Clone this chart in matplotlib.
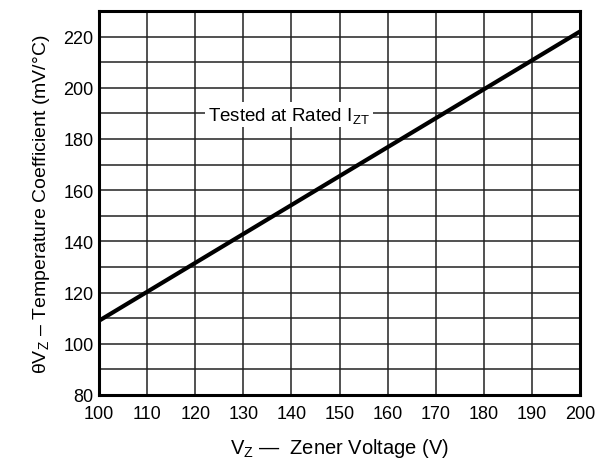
import matplotlib
matplotlib.use('Agg')
import matplotlib.pyplot as plt
import numpy as np

plt.rcParams['font.family'] = ['Liberation Sans', 'DejaVu Sans']
plt.rcParams['mathtext.fontset'] = 'custom'
plt.rcParams['mathtext.rm'] = 'Liberation Sans'
plt.rcParams['mathtext.it'] = 'Liberation Sans'

# Datos
vz    = [100, 200]
theta = [109, 222]

x_ticks = np.arange(100, 201, 10)
y_ticks = np.arange(80, 221, 20)
y_grid  = np.arange(80, 231, 10)

fig = plt.figure(figsize=(5.96, 4.64), dpi=100)
ax  = fig.add_axes([99 / 596, 1 - 396 / 464, 481 / 596, 384 / 464])

ax.set_xlim(100, 200)
ax.set_ylim(80, 230)
ax.set_xticks(x_ticks)
ax.set_yticks(y_ticks)
ax.set_yticks(y_grid, minor=True)
ax.tick_params(which='both', length=0, labelsize=13)
ax.tick_params(axis='x', pad=7)
ax.tick_params(axis='y', pad=4)
ax.grid(True, which='both', color='#222222', linewidth=1.1)
ax.set_axisbelow(True)

for s in ax.spines.values():
    s.set_linewidth(2.2)

ax.plot(vz, theta, color='black', linewidth=3, solid_capstyle='butt',
        clip_on=False, zorder=3)

ax.text(139.5, 189.5, r'Tested at Rated I$_\mathrm{ZT}$', fontsize=13.5,
        ha='center', va='center', zorder=4,
        bbox=dict(facecolor='white', edgecolor='none', pad=2))

ax.set_xlabel(r'V$_\mathrm{Z}$ —  Zener Voltage (V)', fontsize=14.5, labelpad=10)
ax.set_ylabel(r'θV$_\mathrm{Z}$ – Temperature Coefficient (mV/°C)', fontsize=14,
              labelpad=8)

fig.savefig('out.png', dpi=100)
